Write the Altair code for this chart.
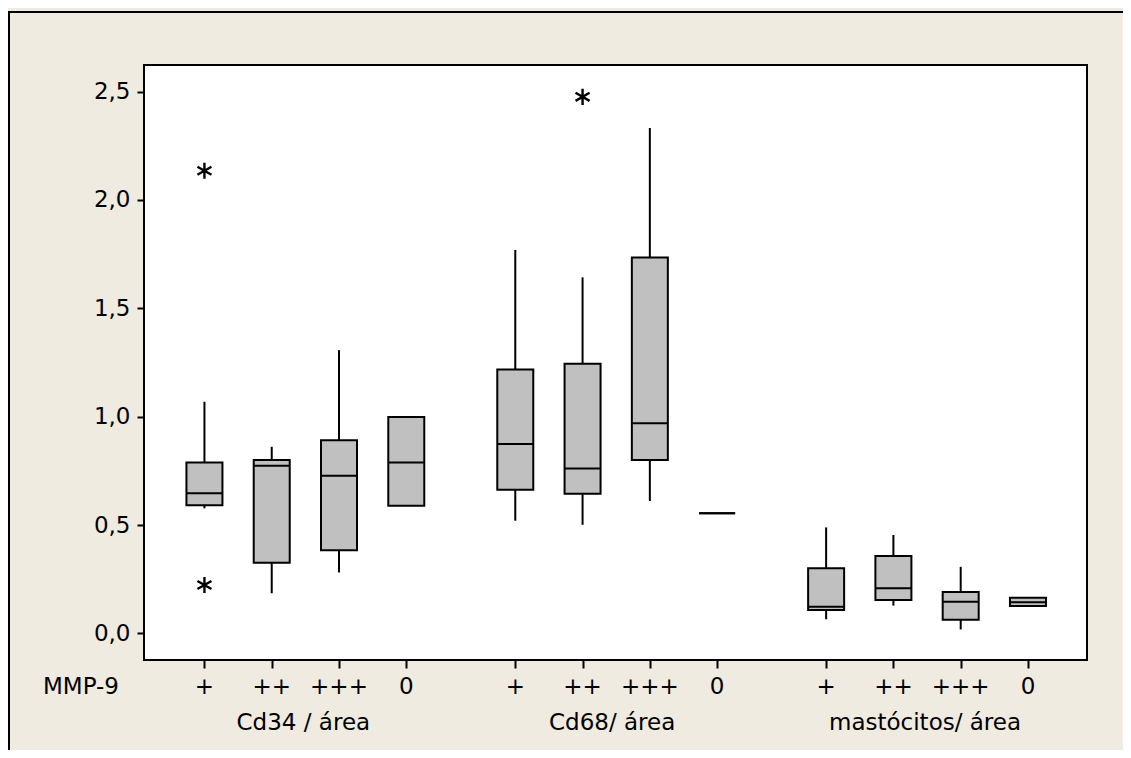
import altair as alt
import pandas as pd

# ---------------- data ----------------
groups = ["Cd34 / área", "Cd68/ área", "mastócitos/ área"]
levels = ["+", "++", "+++", "0"]

# per group: lists in level order (+, ++, +++, 0)
whisker_low = [
    [0.577, 0.185, 0.281, 0.589],
    [0.520, 0.501, 0.611, 0.554],
    [0.065, 0.128, 0.018, 0.126],
]
q1 = [
    [0.591, 0.326, 0.383, 0.589],
    [0.663, 0.644, 0.800, 0.554],
    [0.108, 0.154, 0.063, 0.126],
]
median = [
    [0.646, 0.774, 0.727, 0.789],
    [0.874, 0.761, 0.970, 0.554],
    [0.123, 0.208, 0.146, 0.143],
]
q3 = [
    [0.789, 0.800, 0.891, 0.998],
    [1.218, 1.244, 1.735, 0.554],
    [0.300, 0.357, 0.191, 0.164],
]
whisker_high = [
    [1.069, 0.861, 1.307, 0.998],
    [1.769, 1.643, 2.332, 0.554],
    [0.489, 0.454, 0.307, 0.164],
]
# outliers: (group index, level index, value)
outlier_group = [0, 0, 1]
outlier_level = [0, 0, 1]
outlier_value = [2.135, 0.223, 2.476]

y_ticks = [0.0, 0.5, 1.0, 1.5, 2.0, 2.5]
row_label = "MMP-9"

# ---------------- layout ----------------
W, H = 943, 595
GROUP_GAP = 0.62
BOX_PX = 36
title_offset = [1.47, 1.44, 1.47]
BG = "#EFEBE1"
FONT = "DejaVu Sans"
FS = 23

def pos(g, i):
    return g * (len(levels) + GROUP_GAP) + i

rows = []
for g, gname in enumerate(groups):
    for i, lv in enumerate(levels):
        rows.append(dict(group=gname, level=lv, pos=pos(g, i),
                         wlo=whisker_low[g][i], q1=q1[g][i], med=median[g][i],
                         q3=q3[g][i], whi=whisker_high[g][i]))
boxes = pd.DataFrame(rows)

outliers = pd.DataFrame(dict(
    pos=[pos(g, i) for g, i in zip(outlier_group, outlier_level)],
    value=outlier_value))

lab = pd.DataFrame(dict(pos=boxes["pos"], label=boxes["level"]))
titles = pd.DataFrame(dict(pos=[pos(g, 0) + title_offset[g] for g in range(len(groups))],
                           label=groups))

xscale = alt.Scale(domain=[-0.824, 13.043], nice=False, zero=False)
yscale = alt.Scale(domain=[-0.123, 2.623], nice=False, zero=False)

x_axis = alt.Axis(values=list(boxes["pos"]), labels=False, tickSize=8, tickWidth=2,
                  tickColor="black", domain=False, grid=False, title=None)
y_axis = alt.Axis(values=y_ticks, labelExpr="replace(format(datum.value, '.1f'), '.', ',')",
                  tickSize=7, tickWidth=2, tickColor="black", domain=False, grid=False,
                  title=None, labelFont=FONT, labelFontSize=FS, labelColor="black",
                  labelPadding=7)

base = alt.Chart(boxes)

whiskers = base.mark_rule(color="black", strokeWidth=2).encode(
    x=alt.X("pos:Q", scale=xscale, axis=x_axis),
    y=alt.Y("wlo:Q", scale=yscale, axis=y_axis),
    y2="whi:Q",
)
bars = base.mark_bar(size=BOX_PX, fill="#C0C0C0", stroke="black", strokeWidth=2).encode(
    x=alt.X("pos:Q", scale=xscale), y=alt.Y("q1:Q", scale=yscale), y2="q3:Q")
meds = base.mark_tick(orient="horizontal", size=BOX_PX, thickness=2, color="black", opacity=1).encode(
    x=alt.X("pos:Q", scale=xscale), y=alt.Y("med:Q", scale=yscale))

ast_path = "M0,-1L0,1M-0.87,-0.5L0.87,0.5M-0.87,0.5L0.87,-0.5"
outl = alt.Chart(outliers).mark_point(shape=ast_path, size=260, filled=False,
                                     stroke="black", strokeWidth=2.4, opacity=1).encode(
    x=alt.X("pos:Q", scale=xscale), y=alt.Y("value:Q", scale=yscale))

tick_labels = alt.Chart(lab).mark_text(font=FONT, fontSize=FS, color="black",
                                       baseline="middle", align="center").encode(
    x=alt.X("pos:Q", scale=xscale), y=alt.value(H + 27), text="label:N")
group_titles = alt.Chart(titles).mark_text(font=FONT, fontSize=FS, color="black",
                                           baseline="middle", align="center").encode(
    x=alt.X("pos:Q", scale=xscale), y=alt.value(H + 63), text="label:N")
row_text = alt.Chart(pd.DataFrame(dict(label=[row_label]))).mark_text(
    font=FONT, fontSize=FS, color="black", baseline="middle", align="center").encode(
    x=alt.value(-63), y=alt.value(H + 27), text="label:N")

frame_left = alt.Chart(pd.DataFrame(dict(a=[0]))).mark_rule(color="black", strokeWidth=2).encode(
    x=alt.value(-135), y=alt.value(-54), y2=alt.value(H + 200))
frame_top = alt.Chart(pd.DataFrame(dict(a=[0]))).mark_rule(color="black", strokeWidth=2).encode(
    x=alt.value(-136), x2=alt.value(W + 200), y=alt.value(-53))

chart = alt.layer(
    frame_left, frame_top, whiskers, bars, meds, outl, tick_labels, group_titles, row_text
).properties(
    width=W, height=H, background=BG,
    autosize=alt.AutoSizeParams(type="none"),
    padding={"left": 136, "top": 57, "right": 36, "bottom": 90},
).configure_view(
    fill="white", stroke="black", strokeWidth=2
)

chart.save("out.html", embed_options={"renderer": "svg", "actions": False})
